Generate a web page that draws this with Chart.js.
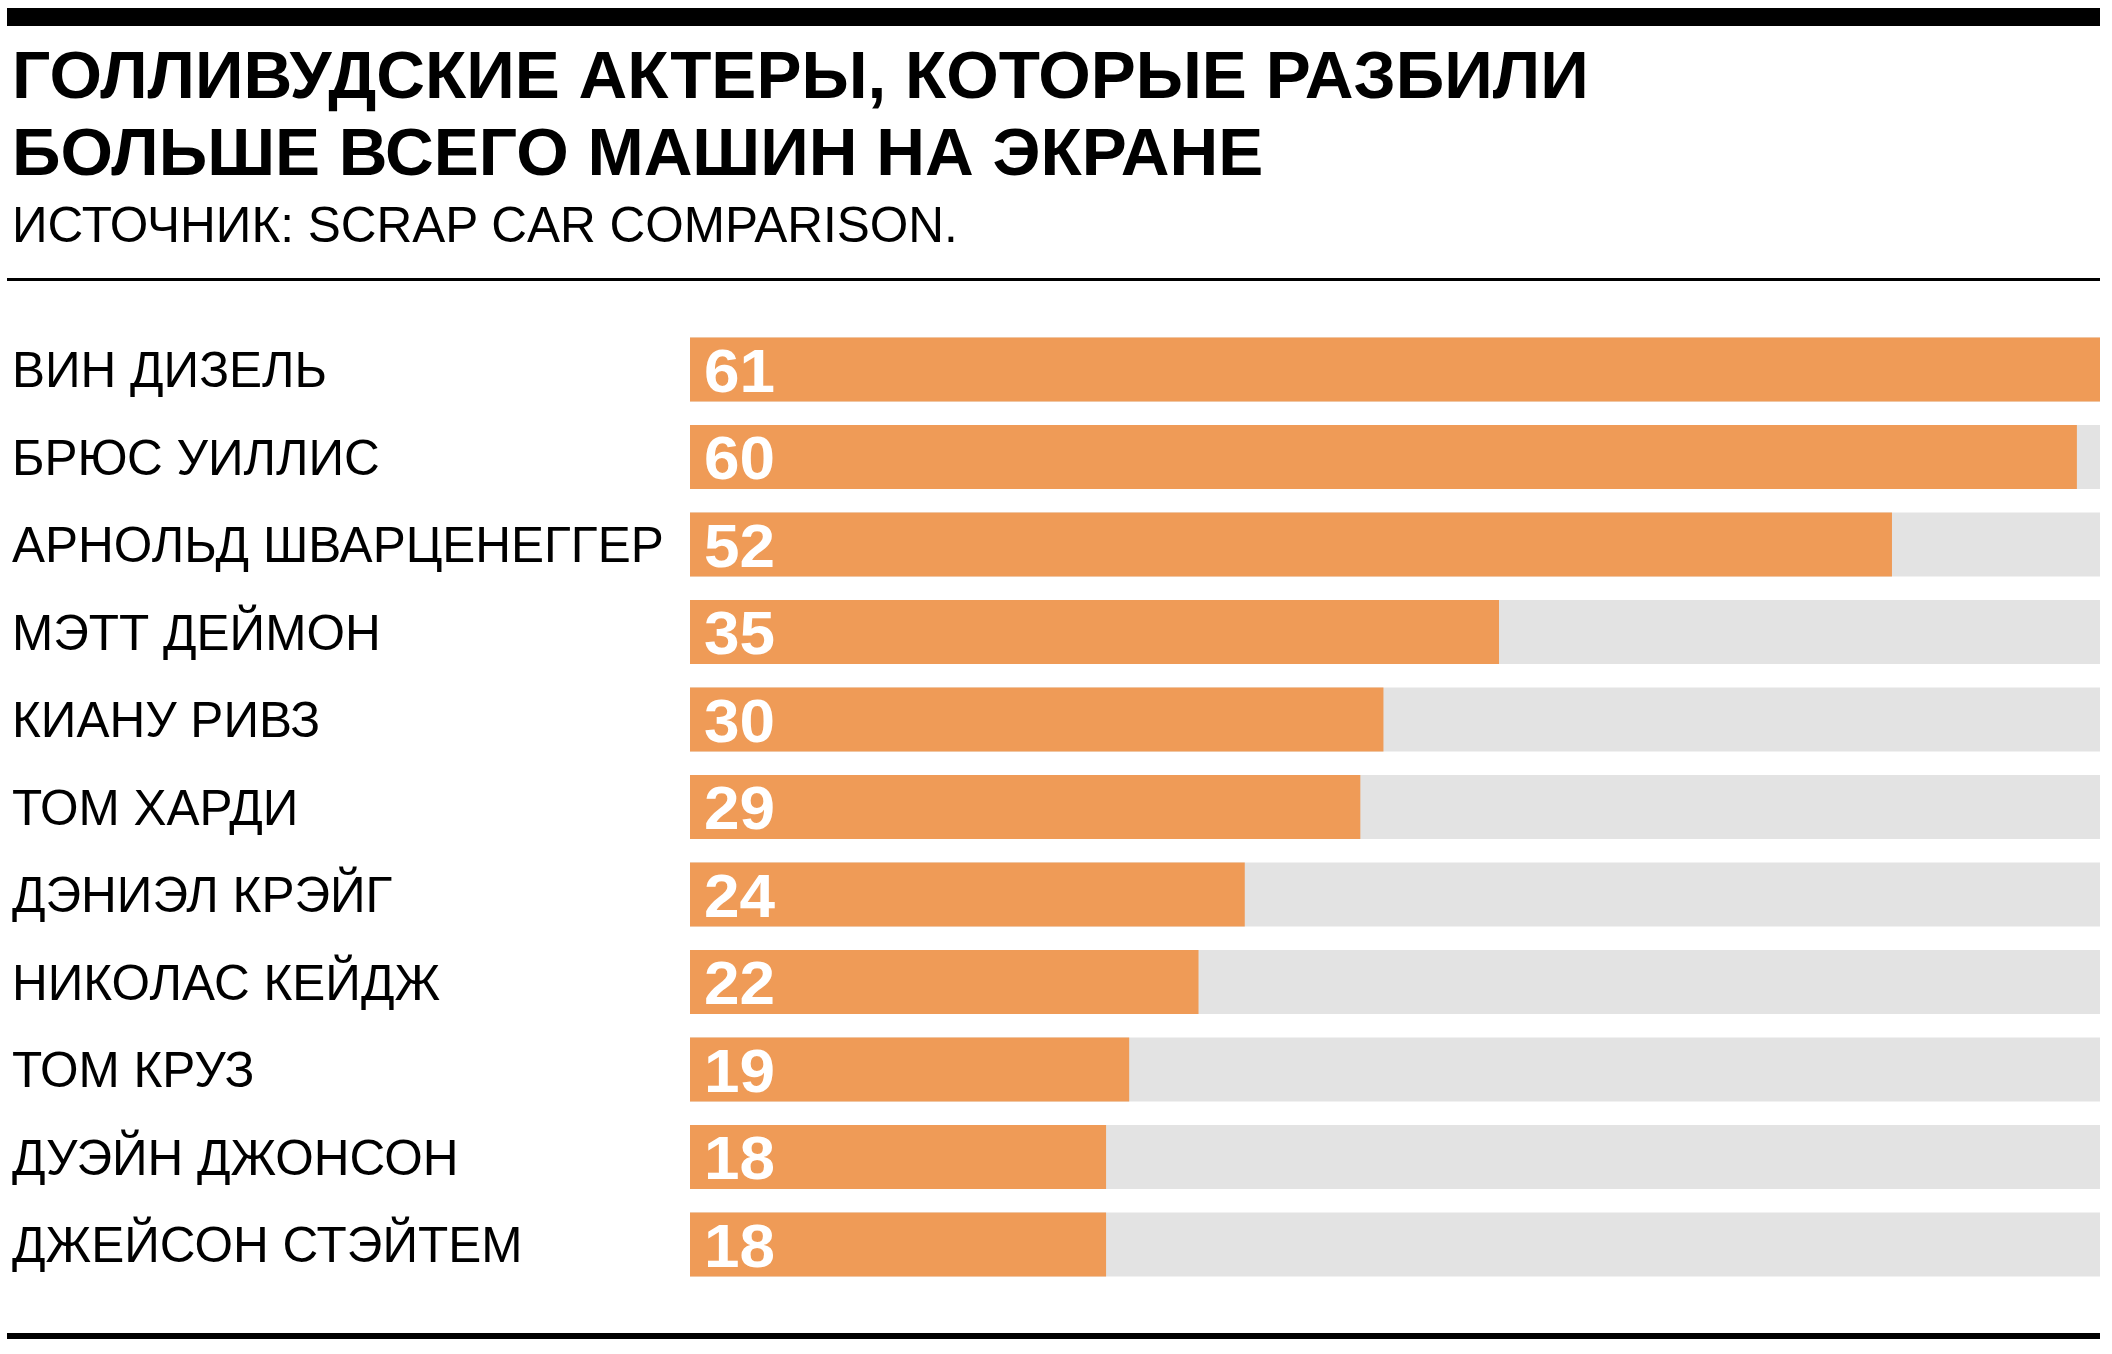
<!DOCTYPE html>
<html>
<head>
<meta charset="utf-8">
<script src="https://cdn.jsdelivr.net/npm/chart.js@4.4.1/dist/chart.umd.min.js"></script>
<style>
  body { margin: 0; width: 2112px; height: 1354px; background: #fff; position: relative; overflow: hidden;
         font-family: "Liberation Sans", Arial, Helvetica, sans-serif; color: #000; }
  .rule { position: absolute; left: 7px; width: 2093px; background: #000; }
  #top-rule { top: 8px; height: 18px; }
  #mid-rule { top: 278px; height: 3px; }
  #bottom-rule { top: 1333px; height: 6px; }
  #title { position: absolute; left: 12px; top: 36px; font-weight: bold; font-size: 67.5px; line-height: 77px; white-space: nowrap; }
  #subtitle { position: absolute; left: 12px; top: 200px; font-size: 49.5px; line-height: 49.5px; white-space: nowrap; }
  #chart { position: absolute; left: 0; top: 0; }
</style>
</head>
<body>
<div class="rule" id="top-rule"></div>
<div id="title">ГОЛЛИВУДСКИЕ АКТЕРЫ, КОТОРЫЕ РАЗБИЛИ<br>БОЛЬШЕ ВСЕГО МАШИН НА ЭКРАНЕ</div>
<div id="subtitle">ИСТОЧНИК: SCRAP CAR COMPARISON.</div>
<div class="rule" id="mid-rule"></div>
<canvas id="chart" width="2112" height="1354"></canvas>
<div class="rule" id="bottom-rule"></div>

<script>
// --- DATA ---
const actors = [
    'ВИН ДИЗЕЛЬ',
    'БРЮС УИЛЛИС',
    'АРНОЛЬД ШВАРЦЕНЕГГЕР',
    'МЭТТ ДЕЙМОН',
    'КИАНУ РИВЗ',
    'ТОМ ХАРДИ',
    'ДЭНИЭЛ КРЭЙГ',
    'НИКОЛАС КЕЙДЖ',
    'ТОМ КРУЗ',
    'ДУЭЙН ДЖОНСОН',
    'ДЖЕЙСОН СТЭЙТЕМ'
];
const carsCrashed = [61, 60, 52, 35, 30, 29, 24, 22, 19, 18, 18];
const axisMax = 61;

// --- STYLE ---
const FONT = '"Liberation Sans", Arial, Helvetica, sans-serif';
const ORANGE = '#EF9B57';
const TRACK = '#E3E3E3';

// grey track behind each bar, full width of the value axis
const trackPlugin = {
    id: 'track',
    beforeDatasetsDraw(chart) {
        const { ctx, chartArea } = chart;
        const meta = chart.getDatasetMeta(0);
        ctx.save();
        ctx.fillStyle = TRACK;
        meta.data.forEach(bar => {
            ctx.fillRect(chartArea.left, bar.y - bar.height / 2, chartArea.right - chartArea.left, bar.height);
        });
        ctx.restore();
    }
};

// white value inside the bar, at its start
const valuePlugin = {
    id: 'values',
    afterDatasetsDraw(chart) {
        const { ctx } = chart;
        const meta = chart.getDatasetMeta(0);
        const data = chart.data.datasets[0].data;
        meta.data.forEach((bar, i) => {
            ctx.save();
            ctx.fillStyle = '#fff';
            ctx.font = 'bold 62px ' + FONT;
            ctx.textAlign = 'left';
            ctx.textBaseline = 'alphabetic';
            ctx.translate(bar.base + 14, bar.y + 22);
            ctx.scale(1.03, 1);
            ctx.fillText(String(data[i]), 0, 0);
            ctx.restore();
        });
    }
};

new Chart(document.getElementById('chart'), {
    type: 'bar',
    data: {
        labels: actors,
        datasets: [{
            data: carsCrashed,
            backgroundColor: ORANGE,
            borderWidth: 0,
            categoryPercentage: 1,
            barPercentage: 64 / 87.5
        }]
    },
    options: {
        indexAxis: 'y',
        responsive: false,
        animation: false,
        layout: { padding: { left: 12, right: 12, top: 325.75, bottom: 65.75 } },
        plugins: { legend: { display: false }, tooltip: { enabled: false } },
        scales: {
            x: { display: false, min: 0, max: axisMax },
            y: {
                grid: { display: false },
                border: { display: false },
                ticks: {
                    color: '#000',
                    crossAlign: 'far',
                    padding: 0,
                    labelOffset: 4,
                    font: { family: FONT, size: 49.5, weight: 'normal' }
                },
                afterFit(scale) { scale.width = 678; }
            }
        }
    },
    plugins: [trackPlugin, valuePlugin]
});
</script>
</body>
</html>
